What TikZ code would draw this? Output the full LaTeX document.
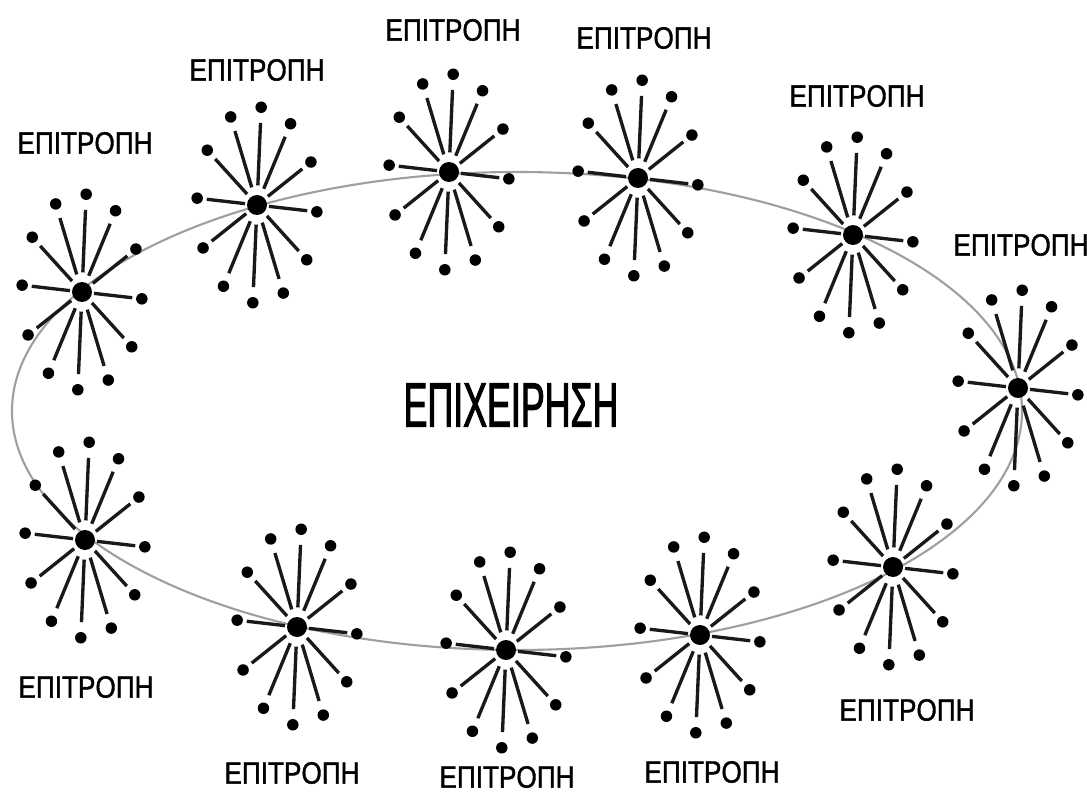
\documentclass[tikz,border=0pt]{standalone}
\usepackage{fontspec}
\usetikzlibrary{calc}
\newfontfamily\labelfont[FakeStretch=0.85,FakeBold=1.2]{Liberation Sans}
\newfontfamily\titlefont[FakeStretch=0.57,FakeBold=1.6]{Liberation Sans}

\tikzset{
  hub/.style={circle,fill=black,minimum size=0.4cm,inner sep=0pt},
  leaf/.style={circle,fill=black,minimum size=0.23cm,inner sep=0pt},
  spoke/.style={line width=1.9pt,black!90},
  ring/.style={gray!75,line width=1.2pt},
  caption/.style={font=\labelfont\fontsize{17.5}{20}\selectfont,inner sep=0pt}
}

\begin{document}
\begin{tikzpicture}[x=0.02cm,y=-0.02cm]
\useasboundingbox (0,0) rectangle (1087,800);

% the ring
\draw[ring] (517,411) ellipse [x radius=505,y radius=239];

\node[font=\titlefont\fontsize{35.7}{40}\selectfont,inner sep=0pt] (firm) at (511,405) {ΕΠΙΧΕΙΡΗΣΗ};

% committees
\foreach \n/\cx/\cy/\lx/\ly in {c1/82/292/85/143, c2/257/205/257/70, c3/449/172/453/30,
    c4/638/178/644/38, c5/853/235/857/96, c6/1018/388/1021/245,
    c7/85/540/86/687, c8/297/627/292/773, c9/506/650/507/777,
    c10/700/635/712/772, c11/893/567/907/710} {
  \node[hub] (\n) at (\cx,\cy) {};
  \foreach \k in {0,...,11} {
    \pgfmathsetmacro\a{30*\k-4}
    \node[leaf] (\n-\k) at ({\cx+60*cos(\a)},{\cy-98*sin(\a)}) {};
    \draw[spoke] ($(\n)!0.2!(\n-\k)$) -- ($(\n)!0.84!(\n-\k)$);
  }
  \node[caption] (\n-name) at (\lx,\ly) {ΕΠΙΤΡΟΠΗ};
}
\end{tikzpicture}
\end{document}
